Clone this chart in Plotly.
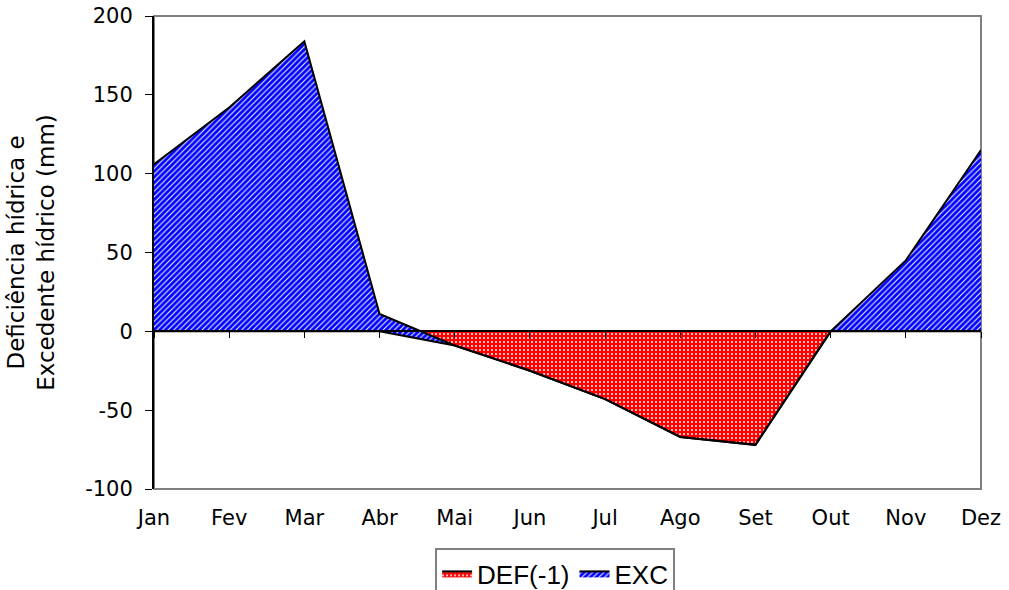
import plotly.graph_objects as go

# balanco hidrico mensal (mm)
meses = ["Jan", "Fev", "Mar", "Abr", "Mai", "Jun", "Jul", "Ago", "Set", "Out", "Nov", "Dez"]
deficiencia = [0, 0, 0, 0, -9, -25, -43, -67, -72, 0, 0, 0]
excedente = [106, 142, 184, 11, 0, 0, 0, 0, 0, 0, 45, 115]

y_ticks = [-100, -50, 0, 50, 100, 150, 200]
y_labels = ["-100", "-50", "0", "50", "100", "150", "200"]

y_min, y_max = y_ticks[0], y_ticks[-1]
pos = list(range(len(meses)))

fig = go.Figure()

fig.add_trace(go.Scatter(
    x=pos, y=deficiencia, name="DEF(-1)", stackgroup="bal", mode="lines",
    line=dict(color="black", width=2),
    fillcolor="rgb(255,0,0)",
    fillpattern=dict(shape=".", fgcolor="white", fgopacity=1, size=4, solidity=0.2),
    hoverinfo="x+y",
))
fig.add_trace(go.Scatter(
    x=pos, y=excedente, name="EXC", stackgroup="bal", mode="lines",
    line=dict(color="black", width=2),
    fillcolor="rgb(0,0,255)",
    fillpattern=dict(shape="/", fgcolor="white", fgopacity=1, size=4, solidity=0.25),
    hoverinfo="x+y",
))
# eixo auxiliar so para desenhar a linha do zero com os ticks
fig.add_trace(go.Scatter(x=[], y=[], xaxis="x2", showlegend=False, hoverinfo="skip"))

fig.update_layout(
    width=1009, height=590,
    paper_bgcolor="white", plot_bgcolor="white",
    margin=dict(l=154, r=28, t=16, b=101, autoexpand=False),
    font=dict(family="DejaVu Sans", size=21, color="black"),
    xaxis=dict(
        range=[0, len(meses) - 1], tickvals=pos, ticktext=meses,
        ticks="", showgrid=False, zeroline=False, showline=False,
        ticklabelstandoff=14, automargin=False, fixedrange=True,
    ),
    xaxis2=dict(
        overlaying="x", anchor="free", position=(0 - y_min) / (y_max - y_min),
        range=[0, len(meses) - 1], tickvals=pos, showticklabels=False,
        ticks="outside", ticklen=6, tickcolor="black", tickwidth=1,
        showline=True, linecolor="black", linewidth=2,
        showgrid=False, zeroline=False, automargin=False,
    ),
    yaxis=dict(
        range=[y_min, y_max], tickvals=y_ticks, ticktext=y_labels,
        ticks="outside", ticklen=7, tickcolor="black", tickwidth=1,
        showline=True, linecolor="black", linewidth=2,
        showgrid=False, zeroline=False, ticklabelstandoff=8, automargin=False,
        title=dict(text="Deficiência hídrica e<br>Excedente hídrico (mm)",
                   font=dict(family="DejaVu Sans", size=23), standoff=24),
    ),
    shapes=[dict(type="rect", xref="paper", yref="paper", x0=0, x1=1, y0=0, y1=1,
                 line=dict(color="#808080", width=2), layer="below")],
    legend=dict(
        orientation="h", x=0.485, xanchor="center",
        yref="container", y=1 - 548 / 590, yanchor="top",
        bordercolor="#808080", borderwidth=2, bgcolor="white",
        font=dict(family="Liberation Sans", size=26),
        traceorder="normal",
    ),
    showlegend=True,
)

fig.write_html("out.html", config={"displayModeBar": False},
               post_script="document.body.style.margin='0';")
